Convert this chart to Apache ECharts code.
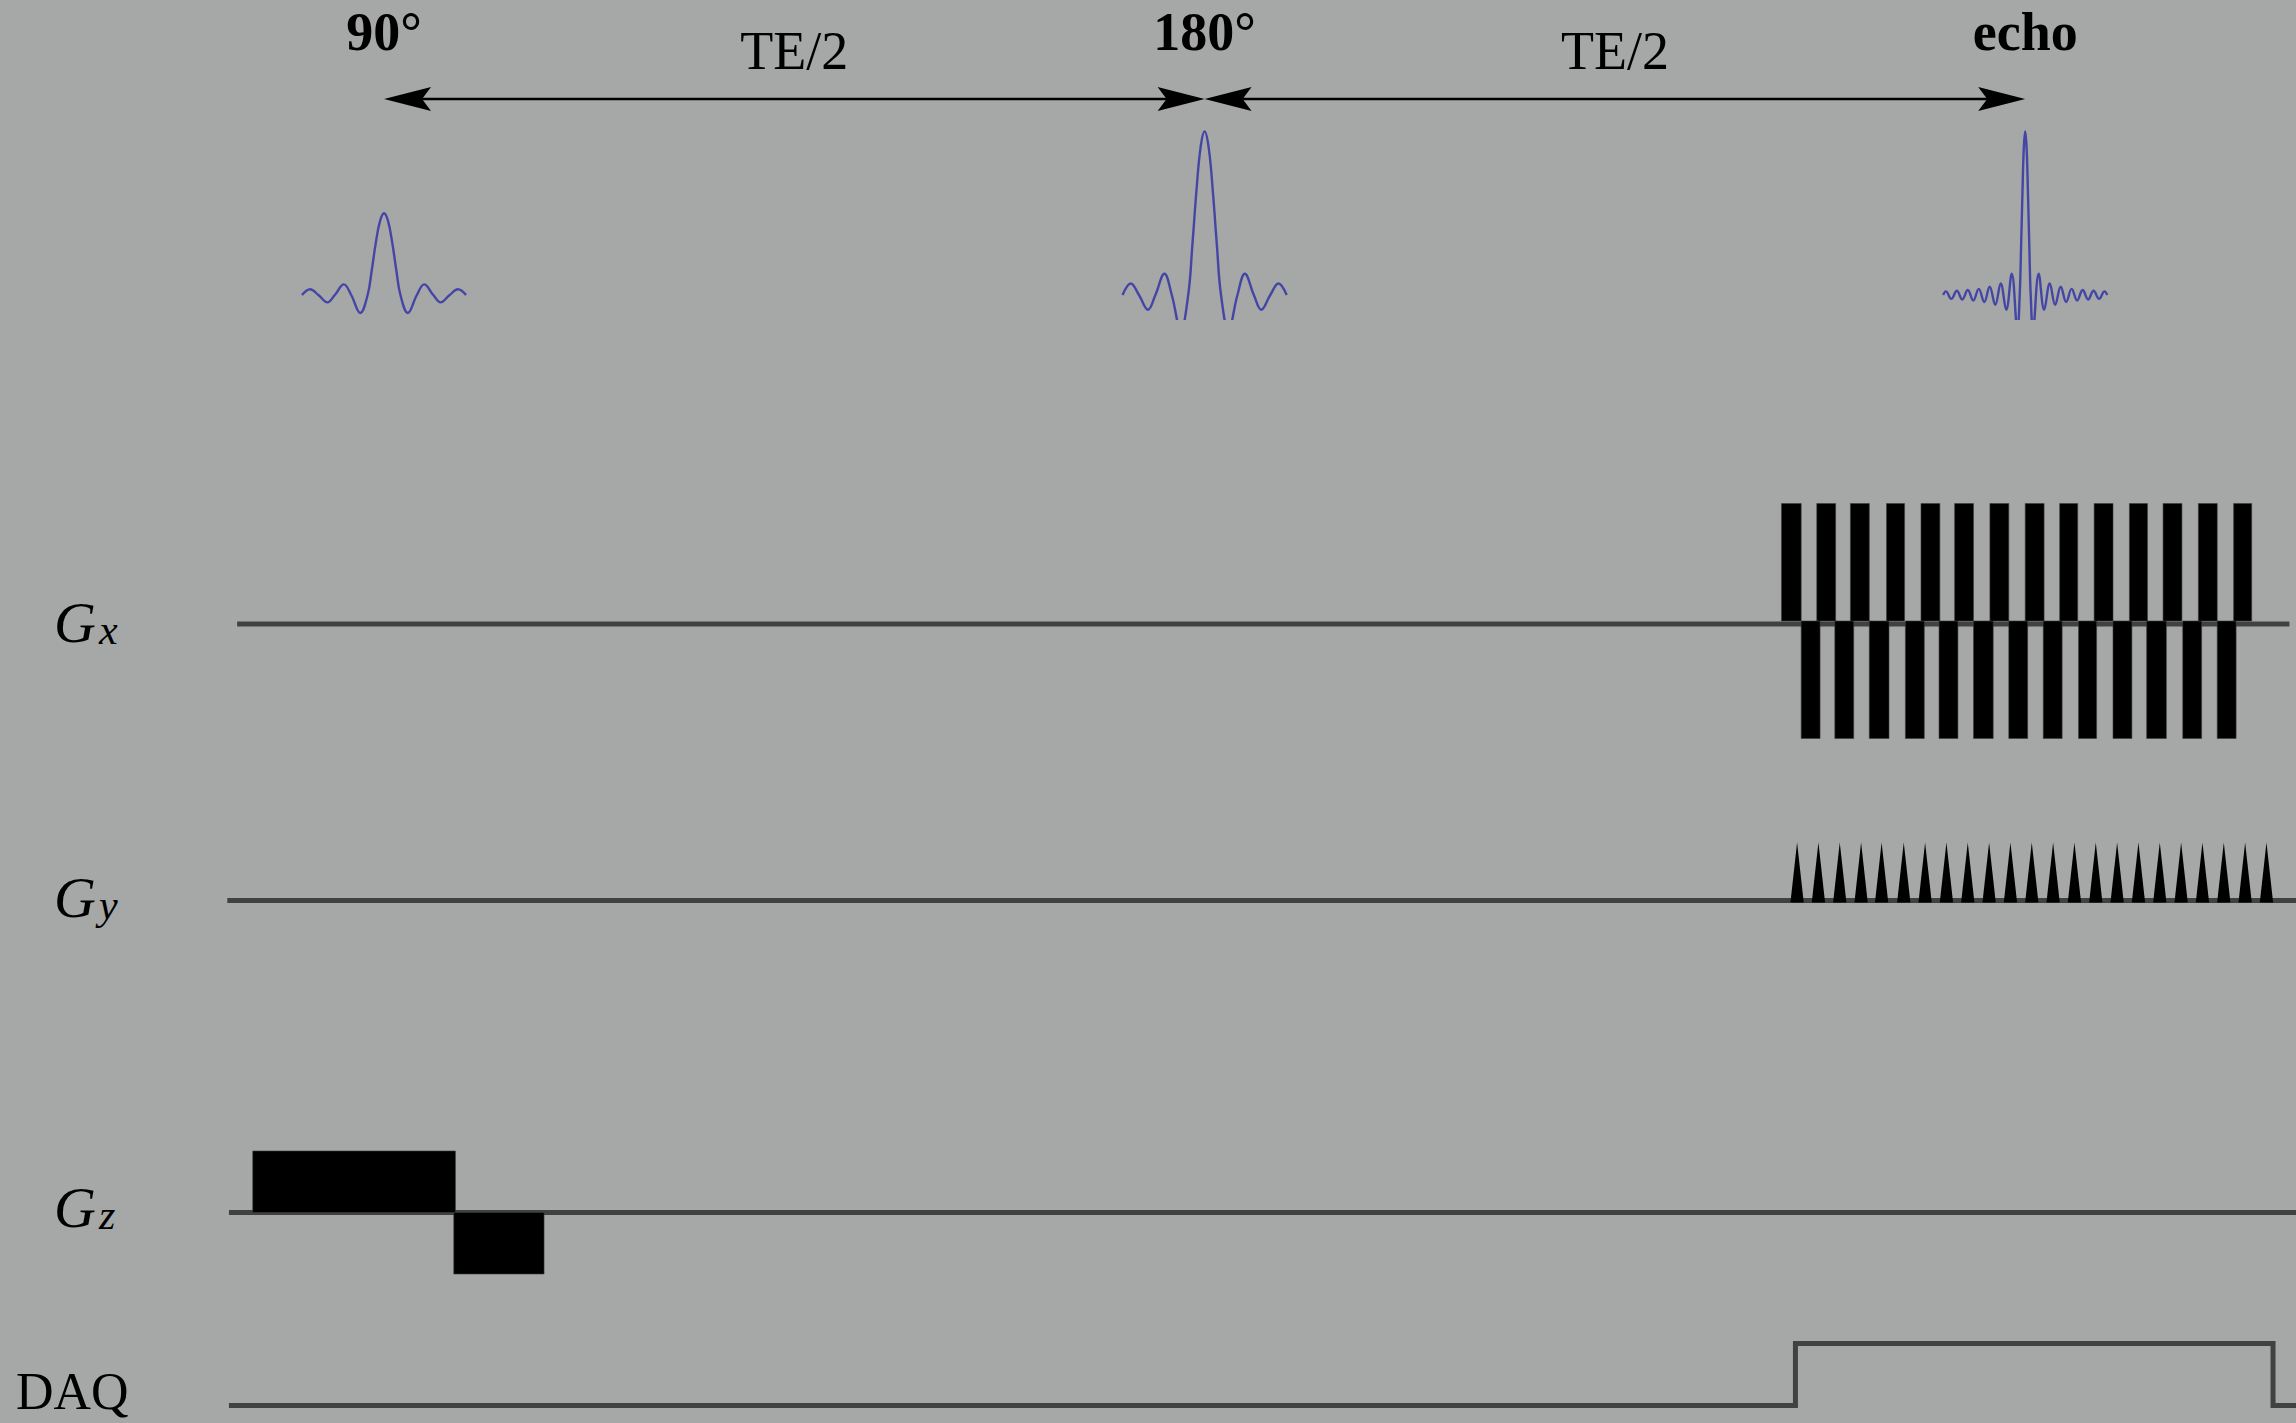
<!DOCTYPE html>
<html>
<head>
<meta charset="utf-8">
<script src="https://cdn.jsdelivr.net/npm/echarts@6/dist/echarts.min.js"></script>
<style>
  html, body { margin: 0; padding: 0; background: #a5a8a6; }
  #chart { width: 2296px; height: 1423px; }
</style>
</head>
<body>
<div id="chart"></div>
<script>
// Spin-echo EPI timing diagram. Time axis in ms: 90° at 0, 180° at TE/2 = 10, echo at TE = 20.

// ---- timing annotations ----
const pulseTimes = [0, 10, 20];
const pulseNames = ['90°', '180°', 'echo'];
const intervalMids = [5, 15];
const intervalNames = ['TE/2', 'TE/2'];
const intervalSpans = [[0, 10], [10, 20]];

// ---- RF envelopes (offset from pulse centre in ms, relative amplitude) ----
const rf90Offset = [-1.0, -0.9, -0.8, -0.69, -0.6, -0.49, -0.4, -0.29, -0.2, -0.15, -0.1, -0.05, 0,
                     0.05, 0.1, 0.15, 0.2, 0.29, 0.4, 0.49, 0.6, 0.69, 0.8, 0.9, 1.0];
const rf90Amp = [0, 0.07, 0, -0.09, 0, 0.13, 0, -0.22, 0, 0.3, 0.64, 0.9, 1,
                 0.9, 0.64, 0.3, 0, -0.22, 0, 0.13, 0, -0.09, 0, 0.07, 0];

const rf180Offset = [-1.0, -0.9, -0.8, -0.69, -0.6, -0.49, -0.4, -0.29, -0.2, -0.15, -0.1, -0.05, 0,
                      0.05, 0.1, 0.15, 0.2, 0.29, 0.4, 0.49, 0.6, 0.69, 0.8, 0.9, 1.0];
const rf180Amp = [0, 0.14, 0, -0.18, 0, 0.26, 0, -0.43, 0, 0.6, 1.27, 1.8, 2,
                  1.8, 1.27, 0.6, 0, -0.43, 0, 0.26, 0, -0.18, 0, 0.14, 0];

const echoOffset = [-1.0, -0.967, -0.9, -0.833, -0.767, -0.7, -0.633, -0.566, -0.499, -0.433, -0.365,
                    -0.299, -0.231, -0.164, -0.095, -0.067, -0.05, -0.033, -0.017, 0,
                    0.017, 0.033, 0.05, 0.067, 0.095, 0.164, 0.231, 0.299, 0.365, 0.433,
                    0.499, 0.566, 0.633, 0.7, 0.767, 0.833, 0.9, 0.967, 1.0];
const echoAmp = [0, 0.044, -0.047, 0.051, -0.055, 0.061, -0.067, 0.075, -0.085, 0.1, -0.12,
                 0.14, -0.18, 0.26, -0.43, 0, 0.6, 1.27, 1.8, 2,
                 1.8, 1.27, 0.6, 0, -0.43, 0.26, -0.18, 0.14, -0.12, 0.1,
                 -0.085, 0.075, -0.067, 0.061, -0.055, 0.051, -0.047, 0.044, 0];

// ---- gradient waveforms ----
// readout (Gx): [start ms, end ms, amplitude]
const gxLobes = [
  [17.03, 17.27, 1], [17.27, 17.50, -1], [17.46, 17.69, 1], [17.68, 17.91, -1],
  [17.87, 18.10, 1], [18.10, 18.34, -1], [18.31, 18.53, 1], [18.54, 18.77, -1],
  [18.73, 18.96, 1], [18.95, 19.18, -1], [19.14, 19.37, 1], [19.37, 19.61, -1],
  [19.57, 19.80, 1], [19.80, 20.03, -1], [20.00, 20.23, 1], [20.22, 20.45, -1],
  [20.42, 20.64, 1], [20.65, 20.87, -1], [20.84, 21.07, 1], [21.07, 21.30, -1],
  [21.27, 21.49, 1], [21.48, 21.72, -1], [21.68, 21.91, 1], [21.92, 22.15, -1],
  [22.11, 22.34, 1], [22.34, 22.57, -1], [22.54, 22.76, 1]
];
const gxSpan = [-1.79, 23.22];
const gxBaselineLevel = -0.025;

// phase-encode blips (Gy): peak times in ms, blip duration
const gyBlips = [17.22, 17.48, 17.74, 18.00, 18.25, 18.52, 18.78, 19.04, 19.30, 19.56, 19.82, 20.08,
                 20.34, 20.60, 20.86, 21.12, 21.38, 21.64, 21.90, 22.16, 22.42, 22.68, 22.94];
const gyBlipDuration = 0.162;
const gySpan = [-1.91, 23.30];

// slice select + rephaser (Gz): [start ms, end ms, amplitude]
const gzLobes = [[-1.60, 0.87, 1], [0.85, 1.95, -1]];
const gzSpan = [-1.89, 23.30];

// acquisition window
const daqWindow = [17.20, 23.02];
const daqSpan = [-1.89, 23.30];

// ---- drawing ----
const T_MIN = -4.68, T_MAX = 23.30;
const LINE = '#404241';
const RF_BLUE = '#4545a6';
const SERIF = '"Liberation Serif", "Times New Roman", serif';

const grids = [
  { top: 32, height: 67 },        // 0 timing arrows + labels
  { top: 127.4, height: 191.3 },  // 1 RF
  { top: 503.5, height: 235 },    // 2 Gx
  { top: 842.5, height: 69.6 },   // 3 Gy
  { top: 1151, height: 123 },     // 4 Gz
  { top: 1331.1, height: 86.8 }   // 5 DAQ
].map(g => Object.assign({ left: 0, right: 0 }, g));

const yRanges = [[0, 1], [-0.29, 2.05], [-1, 1], [-0.2, 1], [-1, 1], [-0.2, 1.2]];

const xAxes = grids.map((g, i) => ({ type: 'value', gridIndex: i, min: T_MIN, max: T_MAX, show: false }));
const yAxes = yRanges.map((r, i) => ({ type: 'value', gridIndex: i, min: r[0], max: r[1], show: false }));

function pulseData(center, offs, amps) {
  return offs.map((o, i) => [center + o, amps[i]]);
}
function baseline(gridIdx, span, level) {
  const y = level || 0;
  return {
    type: 'line', xAxisIndex: gridIdx, yAxisIndex: gridIdx, z: 1,
    data: [[span[0], y], [span[1], y]], symbol: 'none', silent: true,
    lineStyle: { color: LINE, width: 5 }
  };
}
function rfSeries(data) {
  return {
    type: 'line', xAxisIndex: 1, yAxisIndex: 1, data, symbol: 'none', smooth: 0.4,
    clip: true, silent: true, lineStyle: { color: RF_BLUE, width: 2.4 }
  };
}
function lobeSeries(gridIdx, lobes) {
  return {
    type: 'custom', xAxisIndex: gridIdx, yAxisIndex: gridIdx, z: 3, silent: true,
    encode: { x: [0, 1], y: 2 },
    data: lobes,
    renderItem(params, api) {
      const a = api.coord([api.value(0), api.value(2)]);
      const b = api.coord([api.value(1), 0]);
      return {
        type: 'rect',
        shape: { x: Math.min(a[0], b[0]), y: Math.min(a[1], b[1]),
                 width: Math.abs(b[0] - a[0]), height: Math.abs(b[1] - a[1]) },
        style: { fill: '#000', stroke: '#3a3a3a', lineWidth: 0.6 }
      };
    }
  };
}
function gradLabel(y, sub) {
  return {
    type: 'text', x: 54, y,
    style: {
      text: '{g|G}{s|' + sub + '}', fill: '#000', verticalAlign: 'middle',
      rich: {
        g: { fontFamily: SERIF, fontStyle: 'italic', fontSize: 58, lineHeight: 62, verticalAlign: 'bottom' },
        s: { fontFamily: SERIF, fontStyle: 'italic', fontSize: 42, lineHeight: 34, verticalAlign: 'bottom',
             padding: [0, 0, 0, 3] }
      }
    }
  };
}

const arrowLen = 47, arrowNotch = 38, arrowHalf = 12;

const option = {
  backgroundColor: '#a5a8a6',
  animation: false,
  grid: grids,
  xAxis: xAxes,
  yAxis: yAxes,
  series: [
    // TE/2 double arrows
    {
      type: 'custom', xAxisIndex: 0, yAxisIndex: 0, silent: true,
      encode: { x: [0, 1], y: 2 },
      data: intervalSpans.map(s => [s[0], s[1], 0]),
      renderItem(params, api) {
        const a = api.coord([api.value(0), api.value(2)]);
        const b = api.coord([api.value(1), api.value(2)]);
        const y = a[1];
        return {
          type: 'group',
          children: [
            { type: 'line', shape: { x1: a[0] + arrowNotch, y1: y, x2: b[0] - arrowNotch + 2, y2: y },
              style: { stroke: '#000', lineWidth: 2.4 } },
            { type: 'polygon', shape: { points: [[a[0], y], [a[0] + arrowLen, y - arrowHalf],
                [a[0] + arrowNotch, y], [a[0] + arrowLen, y + arrowHalf]] }, style: { fill: '#000' } },
            { type: 'polygon', shape: { points: [[b[0], y], [b[0] - arrowLen, y - arrowHalf],
                [b[0] - arrowNotch, y], [b[0] - arrowLen, y + arrowHalf]] }, style: { fill: '#000' } }
          ]
        };
      }
    },
    // pulse names
    {
      type: 'custom', xAxisIndex: 0, yAxisIndex: 0, silent: true,
      encode: { x: 0, y: 1 },
      data: pulseTimes.map(t => [t, 1]),
      renderItem(params, api) {
        const p = api.coord([api.value(0), api.value(1)]);
        return {
          type: 'text', x: p[0], y: p[1],
          style: { text: pulseNames[params.dataIndex], fill: '#000', align: 'center', verticalAlign: 'middle',
                   fontFamily: SERIF, fontWeight: 'bold', fontSize: 54 }
        };
      }
    },
    // interval names
    {
      type: 'custom', xAxisIndex: 0, yAxisIndex: 0, silent: true,
      encode: { x: 0, y: 1 },
      data: intervalMids.map(t => [t, 1]),
      renderItem(params, api) {
        const p = api.coord([api.value(0), api.value(1)]);
        return {
          type: 'text', x: p[0], y: p[1] + 19,
          style: { text: intervalNames[params.dataIndex], fill: '#000', align: 'center', verticalAlign: 'middle',
                   fontFamily: SERIF, fontWeight: 'normal', fontSize: 54 }
        };
      }
    },
    // RF pulses
    rfSeries(pulseData(pulseTimes[0], rf90Offset, rf90Amp)),
    rfSeries(pulseData(pulseTimes[1], rf180Offset, rf180Amp)),
    rfSeries(pulseData(pulseTimes[2], echoOffset, echoAmp)),
    // Gx
    baseline(2, gxSpan, gxBaselineLevel),
    lobeSeries(2, gxLobes),
    // Gy
    baseline(3, gySpan),
    {
      type: 'custom', xAxisIndex: 3, yAxisIndex: 3, z: 3, silent: true,
      encode: { x: 0, y: 1 },
      data: gyBlips.map(t => [t, 1]),
      renderItem(params, api) {
        const t = api.value(0), h = api.value(1);
        const l = api.coord([t - gyBlipDuration / 2, 0]);
        const top = api.coord([t, h]);
        const r = api.coord([t + gyBlipDuration / 2, 0]);
        return { type: 'polygon', shape: { points: [[l[0], l[1] + 2], top, [r[0], r[1] + 2]] },
                 style: { fill: '#000' } };
      }
    },
    // Gz
    baseline(4, gzSpan),
    lobeSeries(4, gzLobes),
    // DAQ
    {
      type: 'line', xAxisIndex: 5, yAxisIndex: 5, symbol: 'none', silent: true,
      data: [[daqSpan[0], 0], [daqWindow[0], 0], [daqWindow[0], 1], [daqWindow[1], 1],
             [daqWindow[1], 0], [daqSpan[1], 0]],
      lineStyle: { color: LINE, width: 5, join: 'miter' }
    }
  ],
  graphic: [
    gradLabel(620, 'x'),
    gradLabel(895, 'y'),
    gradLabel(1205, 'z'),
    { type: 'text', x: 16, y: 1391, style: { text: 'DAQ', fill: '#000', verticalAlign: 'middle',
        fontFamily: SERIF, fontSize: 52 } }
  ]
};

const chart = echarts.init(document.getElementById('chart'), null, { renderer: 'svg' });
chart.setOption(option);
</script>
</body>
</html>
